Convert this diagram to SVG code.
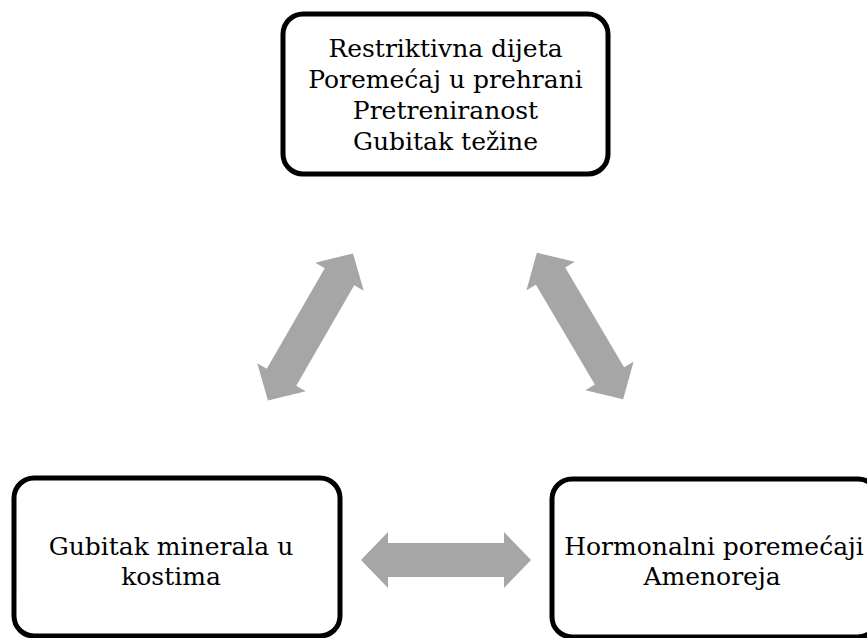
<svg xmlns="http://www.w3.org/2000/svg" width="867" height="638" viewBox="0 0 867 638">
  <style>
    .box { fill: #ffffff; stroke: #000000; stroke-width: 5; }
    .lbl { font-family: "DejaVu Serif", "Liberation Serif", serif; font-size: 25px; fill: #000000; text-anchor: middle; }
    .arr { fill: #a6a6a6; stroke: none; }
  </style>
  <defs>
    <polygon id="dblarrow" points="-85,0 -58,-28 -58,-17 58,-17 58,-28 85,0 58,28 58,17 -58,17 -58,28"/>
  </defs>
  <rect x="0" y="0" width="867" height="638" fill="#ffffff"/>
  <g id="connectors" class="arr">
    <use href="#dblarrow" transform="translate(310.5,327) rotate(-60)"/>
    <use href="#dblarrow" transform="translate(580,326) rotate(59.5)"/>
    <use href="#dblarrow" transform="translate(446,560)"/>
  </g>
  <g id="node-top">
    <rect class="box" x="283" y="14" width="325" height="160" rx="20" ry="20"/>
    <text class="lbl" x="445.5" y="57">Restriktivna dijeta</text>
    <text class="lbl" x="445.5" y="88">Poremećaj u prehrani</text>
    <text class="lbl" x="445.5" y="119">Pretreniranost</text>
    <text class="lbl" x="445.5" y="150">Gubitak težine</text>
  </g>
  <g id="node-left">
    <rect class="box" x="14" y="478" width="326" height="158" rx="20" ry="20"/>
    <text class="lbl" x="171" y="555">Gubitak minerala u</text>
    <text class="lbl" x="171" y="585">kostima</text>
  </g>
  <g id="node-right">
    <rect class="box" x="552" y="479" width="326" height="158" rx="20" ry="20"/>
    <text class="lbl" x="714" y="555">Hormonalni poremećaji</text>
    <text class="lbl" x="712" y="585">Amenoreja</text>
  </g>
</svg>
